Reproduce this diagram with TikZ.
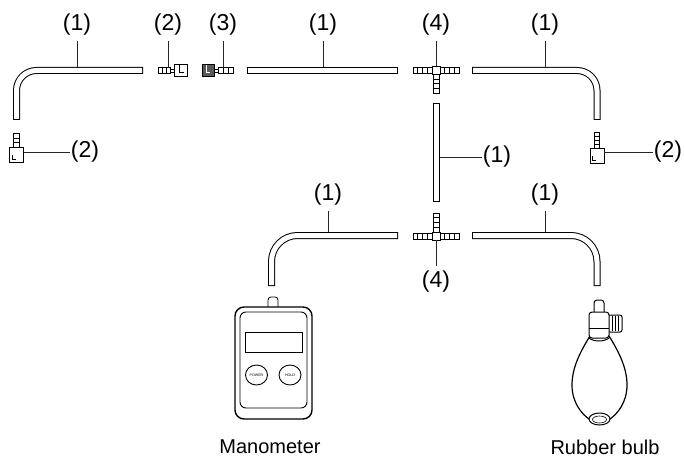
\documentclass[tikz,border=0pt]{standalone}
\usepackage{fontspec}
\setmainfont{Liberation Sans}
% tube: dark outline with a white core, ends closed
\newcommand\tube[2][]{\draw[tubeout,#1]#2;\draw[tubein,#1]#2;}
% row of barbs along x: start x, centre y, segment width (signed), count, half height
\newcommand\barbrow[5]{\foreach \k in {1,...,#4}{\draw[part] ({#1+(\k-1)*(#3)},{#2-#5}) rectangle ({#1+\k*(#3)},{#2+#5});}}
% column of barbs along y: centre x, start y, segment height (signed), count, half width
\newcommand\barbcol[5]{\foreach \k in {1,...,#4}{\draw[part] ({#1-#5},{#2+(\k-1)*(#3)}) rectangle ({#1+#5},{#2+\k*(#3)});}}
\begin{document}
\begin{tikzpicture}[x=1pt,y=-1pt,
  tubeout/.style={line width=7pt,black},
  tubein/.style={line width=5pt,white,shorten <=1pt,shorten >=1pt},
  part/.style={draw=black,line width=0.8pt,fill=white},
  body/.style={draw=black,line width=1.2pt,fill=white},
  lead/.style={draw=black!85,line width=0.7pt},
  lbl/.style={inner sep=0pt,font=\fontsize{23}{27}\selectfont},
  captext/.style={inner sep=0pt,font=\fontsize{20}{24}\selectfont},
  btn/.style={inner sep=0pt,font=\fontsize{3.6}{4}\selectfont},
]
\useasboundingbox[fill=white] (0,0) rectangle (684,457);

% ---- tubes (1)
\tube[rounded corners=20pt]{(16.5,120) -- (16.5,70.5) -- (143,70.5)}
\tube{(247,70.5) -- (398,70.5)}
\tube[rounded corners=20pt]{(472,70.5) -- (597,70.5) -- (597,120)}
\tube{(436,103) -- (436,202)}
\tube[rounded corners=26pt]{(271.5,286) -- (271.5,235.5) -- (398,235.5)}
\tube[rounded corners=26pt]{(472,235.5) -- (597,235.5) -- (597,286)}

% ---- straight connector (2)
\barbrow{158}{70.5}{4}{3}{2.6}
\draw[part] (170,69) rectangle (174,72);
\draw[part] (174,64.5) rectangle (187,76.5);
\draw[line width=0.7pt] (179.5,64.5) |- (183.5,72);

% ---- connector (3)
\draw[part,fill=black!65] (202,64.5) rectangle (214,76.5);
\draw[white,line width=0.7pt] (206.5,65.5) |- (209.5,72);
\draw[part] (214,69) rectangle (218,72);
\barbrow{218}{70.5}{5}{3}{2.6}

% ---- upper tee (4)
\barbrow{432}{70.5}{-4.75}{4}{3}
\barbrow{440}{70.5}{4.75}{4}{3}
\barbcol{436}{74.5}{4.7}{4}{3}
\draw[part] (432,66.5) rectangle (440,74.5);

% ---- lower tee (4)
\barbrow{432}{236}{-4.75}{4}{3}
\barbrow{440}{236}{4.75}{4}{3}
\barbcol{436}{232}{-4.75}{4}{3}
\draw[part] (432,232) rectangle (440,240);

% ---- elbow connectors (2)
\barbcol{16.5}{147}{-4.5}{3}{2.8}
\draw[part] (9.5,147) rectangle (23.5,162);
\draw[line width=0.6pt] (12,155) |- (15.5,159);
\barbcol{597}{148}{-4}{4}{2.8}
\draw[part] (590,148) rectangle (604,163);
\draw[line width=0.6pt] (592.5,156) |- (596,160);

% ---- manometer
\draw[part,rounded corners=3pt] (268,308) -- (268,297) -- (278,297) -- (278,308);
\draw[body,line width=1.4pt,rounded corners=9pt] (235,307) rectangle (312,419);
\draw[line width=0.9pt,rounded corners=6pt] (240,312) rectangle (307,408);
\draw[line width=0.9pt] (245,332) rectangle (302,352);
\draw[line width=0.9pt] (256.5,375) ellipse [x radius=11, y radius=10];
\draw[line width=0.9pt] (290,375) ellipse [x radius=11, y radius=10];
\node[btn] (power) at (256.5,375) {POWER};
\node[btn] (hold) at (290,375) {HOLD};
\node[captext] (mano) at (270,447) {Manometer};

% ---- rubber bulb
\draw[part,line width=1pt,rounded corners=3pt] (594,313) -- (594,300) -- (604,300) -- (604,313);
\draw[part,line width=1pt,rounded corners=2pt] (608,315) rectangle (622,332);
\foreach \xx in {612,615,618} \draw[line width=0.6pt] (\xx,316) -- (\xx,331);
\draw[body] (590,336) .. controls (580,352) and (572,368) .. (572,385)
  .. controls (572,403) and (582,414) .. (589,419) -- (610,419)
  .. controls (617,414) and (627,403) .. (627,385)
  .. controls (627,368) and (619,352) .. (609,336) -- cycle;
\draw[part,line width=1pt,rounded corners=3pt] (589,338) rectangle (609,312);
\draw[line width=1pt] (589,328) -- (609,328);
\draw[line width=1pt] (589,338) .. controls (594,342) and (604,342) .. (609,338);
\draw[part,line width=1pt] (599.5,419) ellipse [x radius=10.5, y radius=6];
\draw[line width=0.6pt] (599.5,419.5) ellipse [x radius=7, y radius=3.5];
\node[captext] (bulb) at (605,447) {Rubber bulb};

% ---- labels and leader lines
\node[lbl] (la) at (77,25) {(1)};
\node[lbl] (lb) at (168,25) {(2)};
\node[lbl] (lc) at (223,25) {(3)};
\node[lbl] (ld) at (323,25) {(1)};
\node[lbl] (le) at (436,25) {(4)};
\node[lbl] (lf) at (545,25) {(1)};
\node[lbl] (lg) at (85,152) {(2)};
\node[lbl] (lh) at (668,152) {(2)};
\node[lbl] (li) at (497,157) {(1)};
\node[lbl] (lj) at (328,195) {(1)};
\node[lbl] (lk) at (545,195) {(1)};
\node[lbl] (ll) at (436,282) {(4)};

\coordinate (pa) at (77,67);
\coordinate (pb) at (168,68);
\coordinate (pc) at (223,68);
\coordinate (pd) at (323,67);
\coordinate (pe) at (436,66.5);
\coordinate (pf) at (545,67);
\coordinate (pg) at (23.5,152);
\coordinate (ph) at (604,152);
\coordinate (pi) at (439.5,157);
\coordinate (pj) at (328,232);
\coordinate (pk) at (545,232);
\coordinate (pl) at (436,240);

\foreach \a/\b in {la/pa,lb/pb,lc/pc,ld/pd,le/pe,lf/pf,lj/pj,lk/pk}
  \draw[lead] ([yshift=-5pt]\a.south) -- (\b);
\draw[lead] (pg) -- ([xshift=-1pt]lg.west);
\draw[lead] (ph) -- ([xshift=-1pt]lh.west);
\draw[lead] (pi) -- ([xshift=-1pt]li.west);
\draw[lead] (pl) -- ([yshift=5pt]ll.north);
\end{tikzpicture}
\end{document}
